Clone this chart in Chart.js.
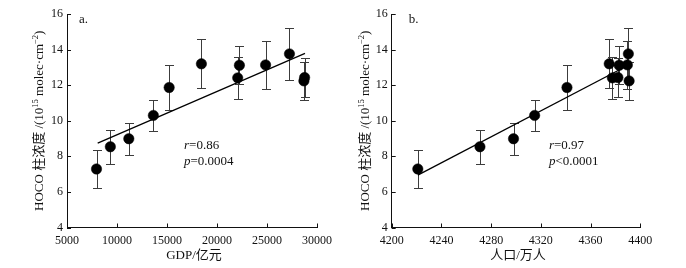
<!DOCTYPE html>
<html><head><meta charset="utf-8">
<script src="https://cdn.jsdelivr.net/npm/chart.js@4/dist/chart.umd.min.js"></script>
<style>
html,body{margin:0;padding:0;background:#fff}
#wrap{display:flex;width:686px;height:268px}
canvas{display:block}
</style></head><body>
<div id="wrap"><canvas id="ca" width="343" height="268"></canvas><canvas id="cb" width="343" height="268"></canvas></div>
<script>
// ---- Panel a: GDP vs HOCO ----
const gdp    = [7950, 9335, 11180, 13636, 15215, 18440, 22070, 22240, 24860, 27245, 28690, 28760];
const hocoA  = [7.29, 8.54, 8.99, 10.30, 11.87, 13.20, 12.41, 13.12, 13.14, 13.76, 12.24, 12.43];
const errA   = [1.06, 0.95, 0.91, 0.88, 1.24, 1.37, 1.18, 1.07, 1.34, 1.46, 1.08, 1.07];
const fitAx  = [8070, 28800];
const fitAy  = [8.74, 13.79];
const gdpTicks = [5000, 10000, 15000, 20000, 25000, 30000];

// ---- Panel b: population vs HOCO ----
const population = [4221, 4271, 4298, 4315, 4341, 4375, 4377.5, 4382, 4383, 4389.6, 4390.4, 4391];
const hocoB  = [7.29, 8.54, 8.99, 10.30, 11.87, 13.20, 12.41, 12.43, 13.12, 13.14, 13.76, 12.24];
const errB   = [1.06, 0.95, 0.91, 0.88, 1.24, 1.37, 1.18, 1.07, 1.07, 1.34, 1.46, 1.08];
const fitBx  = [4221, 4391];
const fitBy  = [6.94, 13.15];
const popTicks = [4200, 4240, 4280, 4320, 4360, 4400];

const yTicks = [4, 6, 8, 10, 12, 14, 16];

const SERIF = "'Liberation Serif','Times New Roman',serif";
const MIX = "'Liberation Serif','Noto Sans CJK SC',serif";
const INK = '#111';

function decoPlugin(cfg){
  return {
    id: 'deco',
    beforeDatasetsDraw(chart){
      const {ctx} = chart; const x = chart.scales.x, y = chart.scales.y;
      ctx.save(); ctx.strokeStyle = '#3c3c3c'; ctx.lineWidth = 1;
      cfg.xs.forEach((xv, i) => {
        const px = Math.round(x.getPixelForValue(xv)) + 0.5;
        const t = Math.round(y.getPixelForValue(cfg.ys[i] + cfg.err[i])) + 0.5;
        const b = Math.round(y.getPixelForValue(cfg.ys[i] - cfg.err[i])) + 0.5;
        ctx.beginPath();
        ctx.moveTo(px, t); ctx.lineTo(px, b);
        ctx.moveTo(px - 4.5, t); ctx.lineTo(px + 4.5, t);
        ctx.moveTo(px - 4.5, b); ctx.lineTo(px + 4.5, b);
        ctx.stroke();
      });
      ctx.restore();
    },
    afterDraw(chart){
      const {ctx, chartArea: ca} = chart; const x = chart.scales.x, y = chart.scales.y;
      ctx.save();
      ctx.strokeStyle = INK; ctx.lineWidth = 1;
      ctx.beginPath();
      cfg.yTicks.forEach(v => { const py = Math.round(y.getPixelForValue(v)) + 0.5; ctx.moveTo(ca.left, py); ctx.lineTo(ca.left + 4, py); });
      cfg.xTicks.forEach(v => { const px = Math.round(x.getPixelForValue(v)) + 0.5; ctx.moveTo(px, ca.bottom); ctx.lineTo(px, ca.bottom - 4); });
      ctx.stroke();
      ctx.fillStyle = INK;
      // panel label
      ctx.font = '13px ' + SERIF; ctx.textBaseline = 'middle'; ctx.textAlign = 'left';
      ctx.fillText(cfg.label, ca.left + cfg.labelDx, 20);
      // r and p
      const tx = x.getPixelForValue(cfg.statX);
      const drawStat = (sym, rest, py) => {
        ctx.font = 'italic 13px ' + SERIF; ctx.fillText(sym, tx, py);
        const w = ctx.measureText(sym).width;
        ctx.font = '13px ' + SERIF; ctx.fillText(rest, tx + w, py);
      };
      drawStat('r', cfg.rText, y.getPixelForValue(cfg.statY1));
      drawStat('p', cfg.pText, y.getPixelForValue(cfg.statY2));
      // x title
      ctx.font = '13px ' + MIX; ctx.textAlign = 'center';
      ctx.fillText(cfg.xTitle, (ca.left + ca.right) / 2 + 2, 256);
      // y title with superscripts
      const parts = [['HOCO 柱浓度 /(10', 13, 0], ['15', 8.5, -4.5], [' molec·cm', 13, 0], ['−2', 8.5, -4.5], [')', 13, 0]];
      let total = 0;
      parts.forEach(p => { ctx.font = p[1] + 'px ' + MIX; total += ctx.measureText(p[0]).width; });
      ctx.translate(cfg.titleX, (ca.top + ca.bottom) / 2);
      ctx.rotate(-Math.PI / 2);
      ctx.textAlign = 'left'; ctx.textBaseline = 'alphabetic';
      let cx = -total / 2;
      parts.forEach(p => { ctx.font = p[1] + 'px ' + MIX; ctx.fillText(p[0], cx, 4.5 + p[2]); cx += ctx.measureText(p[0]).width; });
      ctx.restore();
    }
  };
}

function makeChart(id, xs, ys, err, fx, fy, xMin, xMax, xTicks, plotLeft, plotRight, deco){
  const pts = xs.map((v, i) => ({x: v, y: ys[i]}));
  const fit = fx.map((v, i) => ({x: v, y: fy[i]}));
  return new Chart(document.getElementById(id), {
    type: 'scatter',
    data: { datasets: [
      { data: pts, pointRadius: 5.2, pointHoverRadius: 5.2, backgroundColor: '#000', borderColor: '#000', borderWidth: 0.5 },
      { data: fit, showLine: true, pointRadius: 0, borderColor: '#000', borderWidth: 1.3 }
    ]},
    options: {
      responsive: false, animation: false, devicePixelRatio: 1,
      plugins: { legend: {display: false}, tooltip: {enabled: false} },
      layout: { padding: { left: 0, top: 14, right: 343 - plotRight, bottom: 0 } },
      scales: {
        x: {
          type: 'linear', min: xMin, max: xMax,
          afterBuildTicks: s => { s.ticks = xTicks.map(v => ({value: v})); },
          afterFit: s => { s.height = 268 - 227.5; },
          grid: { display: false, drawTicks: false, tickLength: 0 },
          border: { display: true, color: INK, width: 1 },
          ticks: { color: INK, font: { family: SERIF, size: 12 }, padding: 6, maxRotation: 0, autoSkip: false, callback: v => String(v) }
        },
        y: {
          type: 'linear', min: 4, max: 16,
          afterBuildTicks: s => { s.ticks = yTicks.map(v => ({value: v})); },
          afterFit: s => { s.width = plotLeft; },
          grid: { display: false, drawTicks: false, tickLength: 0 },
          border: { display: true, color: INK, width: 1 },
          ticks: { color: INK, font: { family: SERIF, size: 12 }, padding: 4, callback: v => String(v) }
        }
      }
    },
    plugins: [deco]
  });
}

makeChart('ca', gdp, hocoA, errA, fitAx, fitAy, 5000, 30000, gdpTicks, 67, 317,
  decoPlugin({xs: gdp, ys: hocoA, err: errA, xTicks: gdpTicks, yTicks: yTicks, label: 'a.', labelDx: 12,
    statX: 16700, statY1: 8.6, statY2: 7.69, rText: '=0.86', pText: '=0.0004', xTitle: 'GDP/亿元', titleX: 38}));
makeChart('cb', population, hocoB, errB, fitBx, fitBy, 4200, 4400, popTicks, 48.7, 297.3,
  decoPlugin({xs: population, ys: hocoB, err: errB, xTicks: popTicks, yTicks: yTicks, label: 'b.', labelDx: 17,
    statX: 4326.5, statY1: 8.6, statY2: 7.69, rText: '=0.97', pText: '<0.0001', xTitle: '人口/万人', titleX: 21}));
</script>
</body></html>
